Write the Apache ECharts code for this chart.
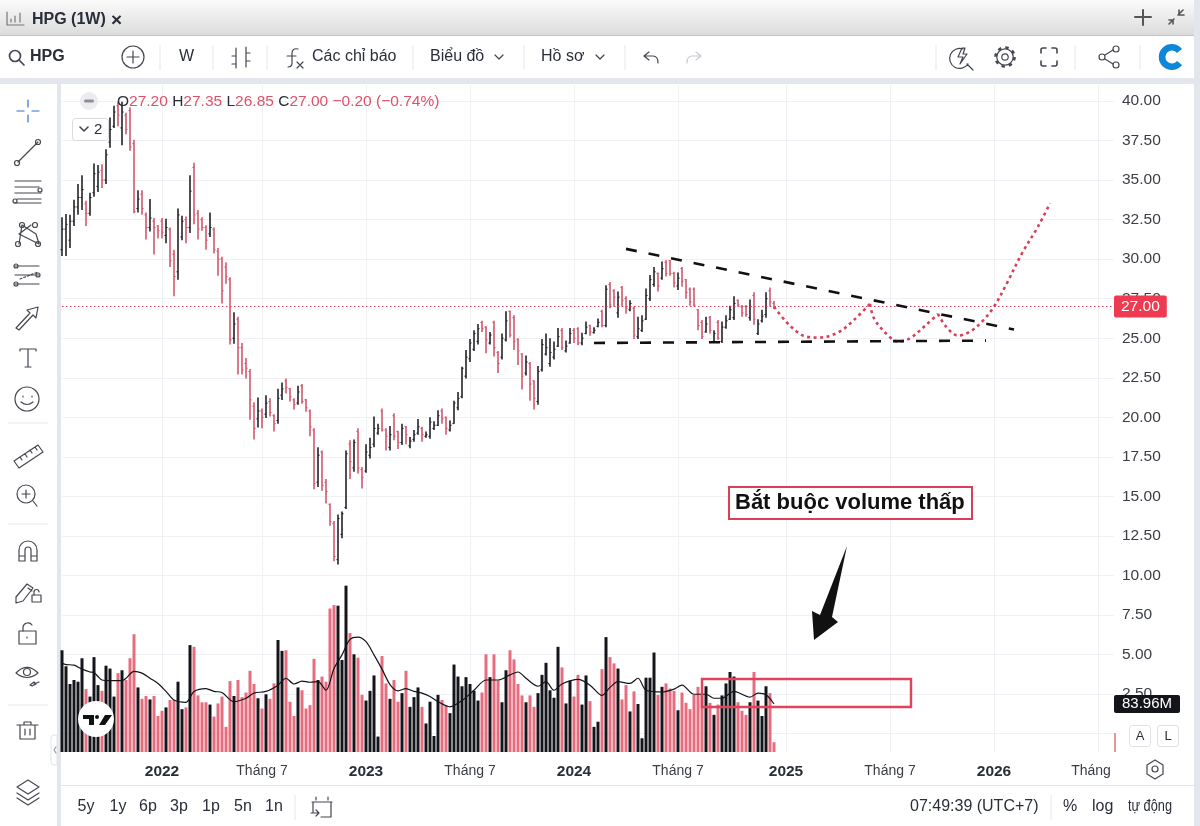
<!DOCTYPE html>
<html>
<head>
<meta charset="utf-8">
<title>HPG (1W)</title>
<script src="https://cdn.jsdelivr.net/npm/echarts@6/dist/echarts.min.js"></script>
<style>
  html, body { margin:0; padding:0; width:1200px; height:826px; overflow:hidden; background:#e4e6ee; font-family:"Liberation Sans", sans-serif; }
  .panel { position:absolute; background:#fff; }
  #chart { position:absolute; left:0; top:0; width:1200px; height:826px; }
  #chrome { position:absolute; left:0; top:0; pointer-events:none; }
  #chrome text { font-family:"Liberation Sans", sans-serif; font-size:16px; fill:#2a2e39; dominant-baseline:middle; }
  #chrome .ic { fill:none; stroke:#44474f; stroke-width:1.2; stroke-linecap:round; stroke-linejoin:round; }
  #chrome .sep { stroke:#e6e7eb; stroke-width:1; }
</style>
</head>
<body>
<div class="panel" style="left:0;top:0;width:1194px;height:35px;background:linear-gradient(#fbfbfb,#dcdcdc);border-bottom:1px solid #c4c4c4"></div>
<div class="panel" style="left:0;top:36px;width:1194px;height:42px"></div>
<div class="panel" style="left:0;top:84px;width:57px;height:742px"></div>
<div class="panel" style="left:61px;top:84px;width:1133px;height:742px"></div>
<div id="chart"></div>
<svg id="chrome" width="1200" height="826" viewBox="0 0 1200 826">
  <!-- title bar -->
  <path class="ic" d="M7 12v13h17M11 22v-3M15 22v-6M20 22v-9" style="stroke:#777"/>
  <text x="32" y="20" style="font-weight:700">HPG (1W)</text>
  <text x="111" y="21" style="font-size:19px;font-weight:700">×</text>
  <path class="ic" d="M1143 10v15M1135 17h16" style="stroke-width:2;stroke:#555"/>
  <path class="ic" d="M1169 24l5-5M1183 10l-5 5M1173 24v-4h-4M1179 10v5h5" style="stroke-width:1.6;stroke:#555"/>

  <!-- top toolbar -->
  <circle class="ic" cx="15" cy="56" r="5.5" style="stroke-width:1.7"/><path class="ic" d="M19 60l5 5" style="stroke-width:1.7"/>
  <text x="30" y="57" style="font-weight:700">HPG</text>
  <circle class="ic" cx="133" cy="57" r="11"/><path class="ic" d="M133 51v12M127 57h12"/>
  <path class="sep" d="M160 45v25M213 45v25M267 45v25M413 45v25M524 45v25M625 45v25M936 45v25M1075 45v25M1140 45v25"/>
  <text x="179" y="57">W</text>
  <path class="ic" d="M236 48v20M232 64h4M232 56h4M246 47v20M246 53h4M246 61h4"/>
  <path class="ic" d="M298 49c-4-1-6 1-6 4v10c0 3-2 4-4 4M287 56h9M297 62l6 6M303 62l-6 6"/>
  <text x="312" y="57">Các chỉ báo</text>
  <text x="430" y="57">Biểu đồ</text><path class="ic" d="M495 55l4 4 4-4"/>
  <text x="541" y="57">Hồ sơ</text><path class="ic" d="M596 55l4 4 4-4"/>
  <path class="ic" d="M649 52l-5 4 5 4M644 56h9c4 0 5 3 5 7"/>
  <path class="ic" d="M696 52l5 4-5 4M701 56h-9c-4 0-5 3-5 7" style="stroke:#c9cbd1"/>
  <path class="ic" d="M963 49a10 10 0 1 0 5 15M967 64l6 6M962 48l-4 9h5l-3 7 7-10h-4l2-6z"/>
  <circle cx="1005" cy="57" r="9.500" fill="none" stroke="#44474f" stroke-width="2.6" stroke-dasharray="3.400 4.060"/>
  <circle class="ic" cx="1005" cy="57" r="8.200" style="fill:#fff"/>
  <circle class="ic" cx="1005" cy="57" r="3.200"/>
  <path class="ic" d="M1041 53v-3q0-2 2-2h3M1052 48h3q2 0 2 2v3M1057 61v3q0 2-2 2h-3M1046 66h-3q-2 0-2-2v-3" style="stroke-width:1.6"/>
  <circle class="ic" cx="1116" cy="49" r="3"/><circle class="ic" cx="1116" cy="65" r="3"/><circle class="ic" cx="1102" cy="57" r="3"/>
  <path class="ic" d="M1105 55l8-5M1105 59l8 5"/>
  <path d="M1182 49a13 13 0 1 0 0 16l-5-4a6.5 6.5 0 1 1 0-8z" fill="#0f87d8"/>

  <!-- left toolbar -->
  <path class="ic" d="M28 100v7M28 115v7M17 111h7M32 111h7" style="stroke:#2b6fd6"/>
  <path class="ic" d="M18 162l20-20"/><circle class="ic" cx="17" cy="163" r="2.5"/><circle class="ic" cx="38" cy="142" r="2.5"/>
  <path class="ic" d="M15 181h26M15 187h24M15 193h26M17 199h24M15 203h26"/><circle class="ic" cx="40" cy="190" r="2"/><circle class="ic" cx="15" cy="201" r="2"/>
  <path class="ic" d="M19 244l3-19 14 9 3 10-20-10 12-9"/><circle class="ic" cx="22" cy="225" r="2.5"/><circle class="ic" cx="35" cy="225" r="2.5"/><circle class="ic" cx="18" cy="244" r="2.5"/><circle class="ic" cx="38" cy="244" r="2.5"/>
  <path class="ic" d="M15 266h24M15 275h24M15 284h24"/><path class="ic" d="M20 279l18-7" style="stroke-dasharray:2 2"/><circle class="ic" cx="16" cy="266" r="2"/><circle class="ic" cx="38" cy="275" r="2"/><circle class="ic" cx="16" cy="284" r="2"/>
  <path class="ic" d="M16 328l14-15-3-3 11-3-2 11-3-3-14 15z"/>
  <path class="ic" d="M20 351v-2h16v2M28 349v18M25 367h6"/>
  <circle class="ic" cx="27" cy="399" r="12"/><path class="ic" d="M21 402q6 5 12 0M23 396v1M32 396v1"/>
  <path class="sep" d="M8 423h40M8 524h40M8 705h40"/>
  <path class="ic" d="M14 461l24-16 5 7-24 16zM20 457l2 3M25 454l2 3M30 450l2 3M35 447l2 3"/>
  <circle class="ic" cx="26" cy="494" r="9"/><path class="ic" d="M33 501l4 5M26 490v8M22 494h8"/>
  <path class="ic" d="M19 561v-11a9 9 0 0 1 18 0v11h-6v-11a3 3 0 0 0-6 0v11zM19 556h6M31 556h6"/>
  <path class="ic" d="M16 597l11-13 6 4-10 13-7 2zM28 588l4 3"/><rect class="ic" x="32" y="595" width="9" height="7"/><path class="ic" d="M34 595v-3a2.500 2.500 0 0 1 5 0"/>
  <rect class="ic" x="19" y="631" width="17" height="13"/><path class="ic" d="M23 631v-4a5 5 0 0 1 9-2M27 637v1"/>
  <path class="ic" d="M16 673q11-11 22 0q-11 9-22 0z"/><circle class="ic" cx="27" cy="672" r="3.5"/><path class="ic" d="M30 685l4-3 2 2-4 2zM34 684l5-2"/>
  <path class="ic" d="M20 725h15v14H20zM17 725h21M24 725v-3h7v3M25 729v6M30 729v6"/>
  <path d="M57 735h-3q-3 0-3 3v24q0 3 3 3h3z" fill="#fff" stroke="#e3e4e8"/><path class="ic" d="M56 747l-2 3 2 3" style="stroke:#999"/>
  <path class="ic" d="M28 780l11 7-11 7-11-7zM17 793l11 7 11-7M17 798l11 7 11-7"/>

  <!-- legend -->
  <circle cx="89" cy="101" r="9" fill="#ececf0"/><rect x="84" y="99.500" width="10" height="3" rx="1.500" fill="#8e8f96"/>
  <text x="117" y="102" style="font-size:15.5px">O<tspan fill="#d9536a">27.20</tspan> H<tspan fill="#d9536a">27.35</tspan> L<tspan fill="#d9536a">26.85</tspan> C<tspan fill="#d9536a">27.00</tspan> <tspan fill="#d9536a">−0.20 (−0.74%)</tspan></text>
  <rect x="72.500" y="118.500" width="36" height="22" rx="3" fill="#fff" stroke="#d9dae0"/>
  <path class="ic" d="M80 127l4 4 4-4" style="stroke-width:1.6"/>
  <text x="94" y="130" style="font-size:15px">2</text>

  <!-- volume pane logo -->
  <circle cx="96" cy="719" r="18" fill="#fff"/>
  <path d="M83 715h11v10h-5v-6h-6zM105 715h7l-7 10h-6z" fill="#111"/><circle cx="97" cy="717" r="2" fill="#111"/>

  <!-- price scale extras -->
  <rect x="1129.500" y="725.500" width="21" height="21" rx="3" fill="#fff" stroke="#e0e1e6"/>
  <text x="1140" y="737" text-anchor="middle" style="font-size:13px">A</text>
  <rect x="1157.500" y="725.500" width="21" height="21" rx="3" fill="#fff" stroke="#e0e1e6"/>
  <text x="1168" y="737" text-anchor="middle" style="font-size:13px">L</text>
  <path class="ic" d="M1155 760l8 5v9l-8 5-8-5v-9z"/><circle class="ic" cx="1155" cy="769" r="3"/>

  <!-- bottom bar -->
  <path d="M61 785.500H1194" stroke="#e3e4e8"/>
  <g style="text-anchor:middle">
    <text x="86" y="807">5y</text><text x="118" y="807">1y</text><text x="148" y="807">6p</text><text x="179" y="807">3p</text>
    <text x="211" y="807">1p</text><text x="243" y="807">5n</text><text x="274" y="807">1n</text>
  </g>
  <path class="sep" d="M295 795v25M1051 795v25"/>
  <path class="ic" d="M312 802h20M316 797v3M328 797v3M313 802v10M331 802v15h-10M311 813h8M316 810l3 3-3 3"/>
  <text x="910" y="807">07:49:39 (UTC+7)</text>
  <text x="1063" y="807">%</text>
  <text x="1092" y="807">log</text>
  <text x="1128" y="807" textLength="44" lengthAdjust="spacingAndGlyphs">tự động</text>
</svg>
<script>
// HPG weekly bars
const opens = [30.6,31.9,31.2,32.4,33.3,33.9,33.5,32.9,34.2,34.6,35.6,35,37.4,38.4,39.7,38.3,39.1,39.4,37.3,33.2,34.1,32.8,32,32.4,32.1,32.4,31.5,31.9,30.3,29.2,31.4,32.5,32,35.8,32.9,32.5,32,31.6,31.9,30.5,30,29.5,28.7,25,26.2,24.4,23.4,22.9,20.7,19.9,20.4,20.2,21,20.1,19.8,21.4,22.3,21.8,21.1,20.9,22,21.1,20.4,19.2,15.9,17.8,15.9,14.5,13.3,11,12.6,14.3,18.3,16.8,19.1,16.7,16.6,17.6,18.3,19,20.4,19.2,18.1,20.1,19.1,18.4,19.4,18.2,18.6,19,19.3,18.8,18.8,19.3,19.5,20.4,20,19.2,19.6,20.6,21.3,22.6,23.7,24.3,24.8,26,25.7,24.7,26,24.1,23.8,24.9,26.7,26.3,24.9,24,22.8,23.4,22.3,21,23,24,23.4,23.8,24.5,25.5,24.2,24.7,25.5,25.6,24.7,25.3,25.8,25.35,25.75,26.7,25.8,28.4,28,26.6,28.2,27.5,26.8,26.9,25.1,25.5,26.2,27.5,28.4,29.1,28.8,29.8,29.9,29.1,28.3,29.4,28.7,28.1,28.1,26.8,26,25.4,26.3,24.8,26,24.8,25.7,26.2,26.3,27.4,27,27,26.3,27.7,25.3,26.1,26.5,28,27.2];
const highs = [32.65,32.85,32.8,33.75,34.75,35.3,33.7,34.2,36.05,35.95,36,36.95,38.95,39.7,39.95,39.95,39.25,39.6,37.55,34.35,34.35,32.95,33.8,32.6,32.15,32.6,32.55,32,30.6,33.2,32.75,32.7,35.3,36.1,33.1,32.65,32.15,32.95,32,30.7,30.15,29.8,28.85,26.65,26.35,24.7,23.75,23.05,20.95,21.25,20.55,21.4,21.2,20.2,21.8,22.2,22.45,21.85,21.2,22,22.1,21.15,20.5,19.3,18.1,17.9,16.1,14.55,13.45,13.85,14.05,17.9,18.55,18.6,19.3,16.85,18.3,18.7,20.05,19.6,20.55,19.3,19.45,20.25,19.15,19.6,19.45,18.75,19.2,19.9,19.4,19.1,20,19.75,20.45,20.55,20.05,19.8,21.05,21.6,23.2,24.25,24.95,25.5,25.9,26.1,25.75,25.4,26.1,24.2,25.3,26.7,26.75,26.45,25,24.05,23.9,23.5,22.35,23.25,24.95,25.3,25,24.8,25.65,25.65,24.85,25.65,25.65,25.7,25.35,26.05,25.85,25.7,26.25,26.8,28.35,28.55,28.1,27.95,28.3,27.65,27.4,27,26.35,26.45,28.15,29,29.5,29.15,29.85,29.95,29.95,29.2,29.15,29.5,28.75,28.2,28.2,26.85,26.15,26.35,26.4,25.5,26.15,26.05,26.45,27.05,27.65,27.45,27.1,27.1,27.45,27.9,26.2,26.8,27.9,28.2,27.35];
const lows = [30.2,30.2,30.7,32.1,32.8,33.1,32.1,32.75,33.95,34.25,34.5,34.75,37.05,38.3,38.4,37.2,37.9,36.85,32.9,32.95,32.8,31.25,31.75,30.3,31.3,31.3,31,29.5,27.65,28.7,31.2,31,31.65,32.2,31.25,31.8,30.6,31.4,30.35,28.95,27.2,28.45,24.6,24.65,22.7,22.7,22.45,19.85,18.6,19.35,19.3,19.95,20.05,19.1,19.6,21.1,21.5,21,20.5,20.8,20.85,20.35,18.8,15.45,15.6,15.35,14.55,13.15,10.9,10.7,12.35,14.2,16.1,16.55,16.45,15.5,16.5,17.4,18.1,18.9,19.1,17.9,17.9,18.55,18,18.25,18.3,18.05,18.45,18.9,18.45,18.7,18.65,19.2,19.45,19.6,18.9,19.1,19.6,20.45,21.2,22.45,23.5,24.2,24.6,25.4,24.05,24.6,23.85,22.8,23.65,24.8,25.05,24.25,23.3,21.75,22.65,21.05,20.5,20.8,22.9,23.9,23.2,23.65,24.45,24.25,24.1,24.65,24.7,24.55,24.55,25.25,25.15,25.3,25.7,25.7,25.7,26.9,27,26.3,27,26.55,26.7,24.95,24.95,25.4,26.15,27.35,28.25,27.95,28.7,28.9,28.95,28.2,28.05,28.25,27.5,27.05,27,25.5,24.95,25.35,25.3,24.7,24.9,24.7,25.6,26.15,26.15,27,26.35,26.35,26.1,25.85,25.2,26,26.3,27,26.85];
const closes = [31.9,32.2,32.4,33.3,33.9,34.4,32.9,33.9,35.4,35.5,35,36.6,38.2,39.3,39.1,39.3,38.2,37.1,33,33.8,33.2,32,32.6,32,31.8,31.7,32,29.9,28.9,32.8,32.4,32,34.3,32.8,31.9,32,31.2,32,30.6,30,28,28.9,24.9,25.9,24.4,23,23.1,21.1,19.3,20.4,20,20.9,20.3,19.6,21.2,21.8,21.9,21.3,20.8,21.6,21,20.6,19.4,15.8,17.6,15.7,15.3,13.4,11.2,13.6,13.9,17.7,17.2,18.4,16.8,16.2,17.8,18.1,19.3,19.3,19.2,18.8,18.9,18.8,18.4,19.3,18.9,18.5,18.9,19.4,18.9,18.9,19.7,19.5,20.1,19.9,19.3,19.5,20.9,21.2,23.1,23.8,24.7,25.3,25.6,25.6,24.9,25.2,24.4,23.4,25,26.1,25.2,24.8,24.2,22.6,23.5,22.1,21.2,22.9,24.6,24.4,24.1,24.3,25.1,24.4,24.5,25.3,25,24.7,25,25.7,25.4,25.5,26,25.8,28.1,27.1,27.6,27.6,27.4,26.9,27.2,25.2,25.6,26.1,27.7,28.7,29.2,28.3,29.4,29.1,29.1,28.5,28.8,28.6,27.9,27.3,27.1,25.8,25.1,25.9,25.5,25.3,25,25.7,26.1,26.8,27.2,27.1,26.6,26.5,27,26.2,25.9,26.4,27.5,27.3,27];
const volumes = [178,150,119,126,123,164,110,97,166,117,107,151,146,97,138,143,126,164,206,113,93,98,92,98,63,72,78,91,91,123,75,78,187,184,99,87,87,83,62,85,97,44,124,98,126,96,104,142,119,94,76,101,93,120,196,177,178,88,63,113,108,76,82,163,126,132,123,251,257,256,161,291,208,171,165,100,90,107,134,27,168,120,93,126,88,103,142,79,96,113,79,50,88,28,100,91,82,68,153,132,115,131,119,107,90,104,171,131,171,125,87,143,178,162,119,99,87,99,79,103,135,156,108,95,184,148,85,125,97,135,83,134,89,44,53,145,201,166,155,146,92,117,71,106,84,24,130,130,174,100,114,120,111,107,73,104,86,75,100,114,103,115,86,65,83,99,120,140,132,87,72,65,87,140,90,63,115,103,17];

// volume moving average, read at the weeks listed in maWeeks
const maWeeks = [0,1,3,5,7,8,9,10,12,15,16,18,20,22,24,26,28,31,33,36,38,40,43,46,48,51,54,56,58,60,62,64,66,68,70,72,74,76,78,80,82,84,86,88,90,92,94,97,100,103,106,109,112,114,116,119,121,123,125,129,132,135,137,139,142,144,146,150,153,155,158,161,163,165,168,172,174,176,178];
const maValues = [155,153,152,145,140,139,132,126,125,125,129,141,138,129,120,106,91,87,106,111,106,104,88,94,103,106,117,129,119,124,122,123,108,146,170,197,201,193,170,145,118,107,111,106,103,97,88,79,90,108,126,126,135,140,129,115,123,108,119,127,117,99,113,123,120,129,108,105,110,117,101,101,94,94,106,96,103,100,84];

// hand drawn pattern on the chart: [week index, price]
const upperTrend = [[141,30.65],[238,25.55]];
const lowerTrend = [[133,24.7],[231,24.85]];
const curveFirst = [[178,26.99],[181,26.05],[184,25.36],[186,25.1],[189,25.04],[194,25.36],[198,26.16],[202,27.17]];
const curveSecond = [[202,27.17],[203,26.26],[206,25.31],[209,24.79],[212,25],[216,25.84],[219,26.54]];
const curveThird = [[219,26.54],[221,25.74],[224,25.17],[227,25.42],[230,26.05],[233,26.99],[236,28.37],[240,30.37],[244,32.06],[247,33.53]];

const tickDates = ['2022-01-03','2022-06-27','2022-12-26','2023-06-26','2023-12-25','2024-06-24','2024-12-30','2025-06-30','2025-12-29','2026-06-29'];
const tickTexts = ['2022','Tháng 7','2023','Tháng 7','2024','Tháng 7','2025','Tháng 7','2026','Tháng'];

const lastClose = 27;
const lastMa = '83.96M';
const RED = '#cf4d64';
const VOL_RED = '#e76c7d';
const BLACK = '#14151a';

// weekly categories, Mondays up to the right edge of the chart
const weeks = [];
for (let t = Date.UTC(2021, 6, 12), i = 0; i < 264; i++, t += 7 * 864e5) {
  weeks.push(new Date(t).toISOString().slice(0, 10));
}
const isTick = (idx, value) => tickDates.indexOf(value) >= 0;

const priceRows = opens.map((o, i) => [i, o, highs[i], lows[i], closes[i]]);
const isDown = i => closes[i] < opens[i];

function renderBar(params, api) {
  const i = api.value(0);
  const top = api.coord([i, api.value(2)]);
  const bottom = api.coord([i, api.value(3)]);
  const open = api.coord([i, api.value(1)]);
  const close = api.coord([i, api.value(4)]);
  const stroke = isDown(i) ? RED : BLACK;
  const tick = { stroke, lineWidth: 0.9 };
  return {
    type: 'group',
    children: [
      { type: 'line', shape: { x1: top[0], y1: top[1], x2: bottom[0], y2: bottom[1] }, style: { stroke, lineWidth: 1.5 } },
      { type: 'line', shape: { x1: open[0] - 1.6, y1: open[1], x2: open[0], y2: open[1] }, style: tick },
      { type: 'line', shape: { x1: close[0], y1: close[1], x2: close[0] + 1.6, y2: close[1] }, style: tick }
    ]
  };
}

function curveSeries(name, data) {
  return {
    name, type: 'line', xAxisIndex: 0, yAxisIndex: 0, data, z: 6,
    smooth: 0.35, symbol: 'none',
    lineStyle: { color: '#d8405a', width: 2.6, type: [3, 3.5] }
  };
}
function trendSeries(name, data) {
  return {
    name, type: 'line', xAxisIndex: 0, yAxisIndex: 0, data, z: 7,
    symbol: 'none',
    lineStyle: { color: '#111', width: 2.6, type: [11, 12] }
  };
}

const option = {
  animation: false,
  textStyle: { fontFamily: '"Liberation Sans", sans-serif' },
  grid: [
    { left: 62, right: 86, top: 101, bottom: 92.4 },
    { left: 62, right: 86, top: 85, bottom: 74 }
  ],
  xAxis: [
    { type: 'category', gridIndex: 0, data: weeks, boundaryGap: false, show: false },
    {
      type: 'category', gridIndex: 1, data: weeks, boundaryGap: false,
      axisLine: { show: false },
      axisTick: { show: false },
      splitLine: { show: true, interval: isTick, lineStyle: { color: '#f0f1f4', width: 1 } },
      axisLabel: {
        interval: isTick, margin: 12, hideOverlap: false,
        formatter: v => {
          const text = tickTexts[tickDates.indexOf(v)];
          if (text === 'Tháng') return '{cut|' + text + '}';
          return /^\d/.test(text) ? '{year|' + text + '}' : '{month|' + text + '}';
        },
        rich: {
          year: { fontSize: 15.5, fontWeight: 'bold', color: '#2a2e39' },
          month: { fontSize: 14, color: '#3a3d46' },
          cut: { fontSize: 14, color: '#3a3d46', padding: [0, 14, 0, 0] }
        }
      }
    }
  ],
  yAxis: [
    {
      type: 'value', gridIndex: 0, position: 'right', min: 0, max: 40, interval: 2.5,
      axisLine: { show: false }, axisTick: { show: false },
      splitLine: { lineStyle: { color: '#f0f1f4', width: 1 } },
      axisLabel: { margin: 8, fontSize: 15.5, color: '#3a3d46', formatter: v => v === 0 ? '' : v.toFixed(2) }
    },
    { type: 'value', gridIndex: 1, min: 0, max: 1167, show: false }
  ],
  series: [
    {
      name: 'Khối lượng', type: 'bar', xAxisIndex: 1, yAxisIndex: 1, barWidth: 3, z: 2,
      data: volumes.map((v, i) => ({ value: v, itemStyle: { color: isDown(i) ? VOL_RED : BLACK } }))
    },
    {
      name: 'MA', type: 'line', xAxisIndex: 1, yAxisIndex: 1, z: 3, smooth: 0.3, symbol: 'none',
      data: maWeeks.map((w, i) => [w, maValues[i]]),
      lineStyle: { color: '#14151a', width: 1.2 }
    },
    {
      name: 'HPG', type: 'custom', xAxisIndex: 0, yAxisIndex: 0, z: 4,
      renderItem: renderBar,
      encode: { x: 0, y: [1, 2, 3, 4] },
      data: priceRows,
      markLine: {
        silent: true, symbol: 'none', animation: false,
        lineStyle: { color: '#d8405a', type: [1.5, 2.5], width: 1 },
        data: [{ yAxis: lastClose }],
        label: {
          position: 'end', distance: 0, formatter: lastClose.toFixed(2), color: '#fff', fontSize: 15.5,
          backgroundColor: '#ee3b52', padding: [3, 7, 3, 7], borderRadius: 2
        }
      }
    },
    trendSeries('Cạnh trên', upperTrend),
    trendSeries('Cạnh dưới', lowerTrend),
    curveSeries('Đường 1', curveFirst),
    curveSeries('Đường 2', curveSecond),
    curveSeries('Đường 3', curveThird)
  ],
  graphic: [
    // note box and arrow
    { type: 'rect', z: 20, shape: { x: 729, y: 487, width: 243, height: 32 }, style: { fill: '#fff', stroke: '#d8405a', lineWidth: 2 } },
    { type: 'text', z: 21, x: 735, y: 503, style: { text: 'Bắt buộc volume thấp', font: 'bold 22px "Liberation Sans", sans-serif', fill: '#111', verticalAlign: 'middle' } },
    { type: 'polygon', z: 20, shape: { points: [[847,546],[832,617],[838,622],[814,640],[812,611],[820,615]] }, style: { fill: '#111' } },
    // low volume box
    { type: 'rect', z: 20, shape: { x: 702, y: 679, width: 209, height: 28 }, style: { fill: 'none', stroke: '#e0435a', lineWidth: 2.4 } },
    // stray mark at the scale edge
    { type: 'line', z: 20, shape: { x1: 1115, y1: 733, x2: 1115, y2: 752 }, style: { stroke: '#e76c7d', lineWidth: 1.5 } },
    // volume average tag
    { type: 'rect', z: 20, shape: { x: 1114, y: 695, width: 66, height: 18, r: 2 }, style: { fill: '#14151a' } },
    { type: 'text', z: 21, x: 1147, y: 704, style: { text: lastMa, font: '15px "Liberation Sans", sans-serif', fill: '#fff', align: 'center', verticalAlign: 'middle' } }
  ]
};

const chart = echarts.init(document.getElementById('chart'));
chart.setOption(option);
</script>
</body>
</html>
